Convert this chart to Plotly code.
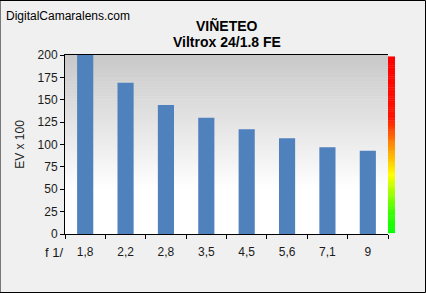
import plotly.graph_objects as go

categories = ["1,8", "2,2", "2,8", "3,5", "4,5", "5,6", "7,1", "9"]
vignetting = [200, 169, 144, 130, 117, 107, 97, 93]
y_ticks = [0, 25, 50, 75, 100, 125, 150, 175, 200]

fig = go.Figure()
fig.add_trace(go.Bar(x=categories, y=vignetting, marker=dict(color="#4f81bd", line=dict(width=0)),
                     width=0.4))

shapes = []
# plot-area gradient: gray at top to white lower
n = 60
for i in range(n):
    y0 = i / n
    y1 = (i + 1) / n
    f = (y0 + y1) / 2
    t = max(0.0, min(1.0, (f - 0.25) / 0.75))
    c = int(round(255 - (255 - 200) * t))
    shapes.append(dict(type="rect", xref="paper", yref="paper", x0=0, x1=1, y0=y0, y1=y1 + 0.002,
                       fillcolor=f"rgb({c},{c},{c})", line=dict(width=0), layer="below"))

# colour scale bar on the right
stops = [(0.0, (0, 255, 0)), (0.12, (60, 255, 0)), (0.33, (255, 255, 0)), (0.5, (255, 140, 0)),
         (0.65, (255, 20, 0)), (1.0, (255, 0, 0))]
def col(f):
    for (a, ca), (b, cb) in zip(stops[:-1], stops[1:]):
        if a <= f <= b:
            t = (f - a) / (b - a)
            return tuple(int(round(ca[k] + (cb[k] - ca[k]) * t)) for k in range(3))
    return stops[-1][1]
m = 80
y_lo, y_hi = 0.005, 0.99
for i in range(m):
    a = y_lo + (y_hi - y_lo) * i / m
    b = y_lo + (y_hi - y_lo) * (i + 1) / m
    r, g, bb = col((i + 0.5) / m)
    shapes.append(dict(type="rect", xref="paper", yref="paper", x0=1.0, x1=1.0 + 7 / 323, y0=a, y1=b + 0.002,
                       fillcolor=f"rgb({r},{g},{bb})", line=dict(width=0), layer="above"))

# outer border
shapes.append(dict(type="rect", xref="paper", yref="paper", x0=-65 / 323, x1=1 + 37.5 / 323,
                   y0=-58.5 / 179, y1=1 + 54.5 / 179, line=dict(color="black", width=1)))

fig.update_layout(
    width=426, height=293,
    margin=dict(l=65, r=38, t=55, b=59),
    paper_bgcolor="#f0f0f0",
    plot_bgcolor="rgba(0,0,0,0)",
    font=dict(family="Liberation Sans, Arial, sans-serif", size=12, color="#1a1a1a"),
    showlegend=False,
    bargap=0.6,
    shapes=shapes,
    xaxis=dict(type="category", showline=True, linecolor="black", linewidth=1, mirror=True,
               ticks="outside", ticklen=4, tickcolor="black", tickson="boundaries",
               showgrid=False, tickfont=dict(size=12), range=[-0.5, 7.5], ticklabelstandoff=7),
    yaxis=dict(range=[0, 200], tickvals=y_ticks, showline=True, linecolor="black", linewidth=1,
               ticks="outside", ticklen=4, tickcolor="black", showgrid=False, zeroline=False,
               tickfont=dict(size=12),
               title=dict(text="EV x 100", font=dict(size=12), standoff=10)),
    annotations=[
        dict(text="DigitalCamaralens.com", xref="paper", yref="paper", x=-61 / 323, y=1 + 39 / 179,
             xanchor="left", yanchor="middle", showarrow=False, font=dict(size=12, color="black")),
        dict(text="<b>VIÑETEO</b>", xref="paper", yref="paper", x=0.5, y=1 + 29 / 179,
             xanchor="center", yanchor="middle", showarrow=False, font=dict(size=14, color="black")),
        dict(text="<b>Viltrox 24/1.8 FE</b>", xref="paper", yref="paper", x=0.5, y=1 + 13 / 179,
             xanchor="center", yanchor="middle", showarrow=False, font=dict(size=14, color="black")),
        dict(text="f 1/", xref="paper", yref="paper", x=0, y=-18 / 179,
             xanchor="right", yanchor="middle", showarrow=False, font=dict(size=13, color="#1a1a1a")),
    ],
)

fig.write_html("out.html")
